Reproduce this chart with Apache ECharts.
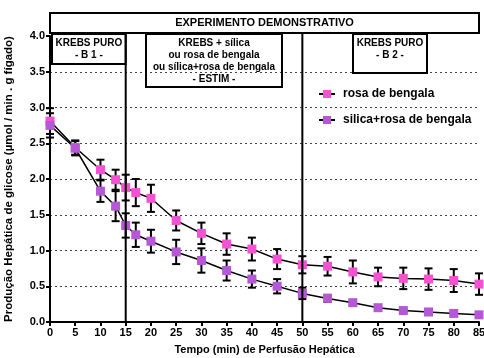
<!DOCTYPE html>
<html>
<head>
<meta charset="utf-8">
<script src="https://cdn.jsdelivr.net/npm/echarts@6/dist/echarts.min.js"></script>
<style>
html,body{margin:0;padding:0;background:#fff;}
#c{width:484px;height:358px;}
</style>
</head>
<body>
<div id="c"></div>
<script>
const times = [0,5,10,13,15,17,20,25,30,35,40,45,50,55,60,65,70,75,80,85];
const rosa = [2.81,2.44,2.13,1.99,1.88,1.81,1.73,1.42,1.24,1.09,1.02,0.88,0.80,0.78,0.70,0.63,0.61,0.60,0.58,0.53];
const rosaErr = [0.18,0.10,0.14,0.14,0.18,0.19,0.19,0.14,0.15,0.15,0.16,0.14,0.12,0.13,0.16,0.13,0.15,0.15,0.16,0.15];
const silica = [2.75,2.43,1.83,1.62,1.35,1.22,1.13,0.98,0.86,0.72,0.60,0.50,0.40,0.33,0.27,0.20,0.16,0.14,0.12,0.10];
const silicaErr = [0.17,0.10,0.15,0.21,0.17,0.17,0.16,0.17,0.17,0.14,0.12,0.10,0.08,0.05,0.03,0.03,0.02,0.02,0.02,0.02];
const seriesNames = ['rosa de bengala','silica+rosa de bengala'];
const phaseBounds = [15, 50];

const FONT = '"Liberation Sans", Arial, sans-serif';
const PINK = '#f552d3';
const PURPLE = '#b657d6';

const chart = echarts.init(document.getElementById('c'), null, {renderer:'canvas'});

function errItem(params, api){
  const x = api.value(0), y = api.value(1), e = api.value(2);
  const t = api.coord([x, y + e]);
  const b = api.coord([x, y - e]);
  const hw = 4;
  const st = {stroke:'#000', lineWidth:2};
  return {type:'group', children:[
    {type:'line', shape:{x1:t[0], y1:t[1], x2:b[0], y2:b[1]}, style:st},
    {type:'line', shape:{x1:t[0]-hw, y1:t[1], x2:t[0]+hw, y2:t[1]}, style:st},
    {type:'line', shape:{x1:b[0]-hw, y1:b[1], x2:b[0]+hw, y2:b[1]}, style:st}
  ]};
}

const option = {
  animation:false,
  backgroundColor:'#fff',
  grid:{left:50, right:5, top:36, bottom:36, containLabel:false, outerBoundsMode:'none'},
  xAxis:{
    type:'value', min:0, max:85, interval:5,
    name:'Tempo (min) de Perfusão Hepática', nameLocation:'middle', nameGap:22,
    nameTextStyle:{fontFamily:FONT, fontWeight:'bold', fontSize:11, color:'#000'},
    axisLine:{show:true, onZero:false, lineStyle:{color:'#000', width:2}},
    axisTick:{show:true, length:4, lineStyle:{color:'#000', width:2}},
    axisLabel:{fontFamily:FONT, fontWeight:'bold', fontSize:11, color:'#000', margin:5},
    splitLine:{show:false}
  },
  yAxis:{
    type:'value', min:0, max:4, interval:0.5,
    name:'Produção Hepática de glicose (µmol / min . g fígado)', nameLocation:'middle', nameGap:35,
    nameTextStyle:{fontFamily:FONT, fontWeight:'bold', fontSize:11.5, color:'#000'},
    axisLine:{show:true, lineStyle:{color:'#000', width:2}},
    axisTick:{show:true, length:4, lineStyle:{color:'#000', width:2}},
    axisLabel:{fontFamily:FONT, fontWeight:'bold', fontSize:11, color:'#000', margin:5,
      formatter:v=>v.toFixed(1)},
    splitLine:{show:true, showMinLine:false, showMaxLine:false, lineStyle:{color:'#444', width:1, type:[2,3]}}
  },
  legend:{
    orient:'vertical', left:318, top:88, padding:0, itemGap:14, itemWidth:16, itemHeight:10,
    data:seriesNames,
    textStyle:{fontFamily:FONT, fontWeight:'bold', fontSize:12, color:'#000', padding:[0,0,0,3]}
  },
  series:[
    {type:'custom', name:'errRosa', z:2, renderItem:errItem, encode:{x:0,y:1},
      data:times.map((t,i)=>[t, rosa[i], rosaErr[i]]), silent:true},
    {type:'custom', name:'errSilica', z:2, renderItem:errItem, encode:{x:0,y:1},
      data:times.map((t,i)=>[t, silica[i], silicaErr[i]]), silent:true},
    {type:'line', name:seriesNames[0], z:5, symbol:'rect', symbolSize:9,
      lineStyle:{color:'#000', width:1.5}, itemStyle:{color:PINK},
      data:times.map((t,i)=>[t, rosa[i]])},
    {type:'line', name:seriesNames[1], z:5, symbol:'rect', symbolSize:9,
      lineStyle:{color:'#000', width:1.5}, itemStyle:{color:PURPLE},
      data:times.map((t,i)=>[t, silica[i]])}
  ]
};
chart.setOption(option);

const y0 = chart.convertToPixel({yAxisIndex:0}, 0);
const xs = phaseBounds.map(v => chart.convertToPixel({xAxisIndex:0}, v));
const xL = chart.convertToPixel({xAxisIndex:0}, 0);
const xR = chart.convertToPixel({xAxisIndex:0}, 85);

const boxText = (x, y, w, h, text) => ([
  {type:'rect', shape:{x:x, y:y, width:w, height:h}, style:{fill:'none', stroke:'#000', lineWidth:2}, z:10},
  {type:'text', x:x + w/2, y:y + 3, z:11, style:{text:text, fontFamily:FONT, fontWeight:'bold', fontSize:10,
    lineHeight:12, fill:'#000', align:'center', verticalAlign:'top'}}
]);

const graphics = [
  {type:'rect', shape:{x:xL, y:13, width:xR - xL, height:20}, style:{fill:'#fff', stroke:'#000', lineWidth:2}, z:10},
  {type:'text', x:(xL + xR)/2, y:23, z:11, style:{text:'EXPERIMENTO DEMONSTRATIVO', fontFamily:FONT, fontWeight:'bold',
    fontSize:11, fill:'#000', align:'center', verticalAlign:'middle'}},
  ...xs.map(x => ({type:'line', z:9, shape:{x1:x, y1:33, x2:x, y2:y0}, style:{stroke:'#000', lineWidth:2}})),
  ...boxText(xL + 2, 34, xs[0] - xL - 2, 30, 'KREBS PURO\n- B 1 -'),
  ...boxText(146, 34, 136, 53, 'KREBS + sílica\nou rosa de bengala\nou sílica+rosa de bengala\n- ESTIM -'),
  ...boxText(353, 34, 74, 39, 'KREBS PURO\n- B 2 -')
];
chart.setOption({graphic:graphics});
</script>
</body>
</html>
